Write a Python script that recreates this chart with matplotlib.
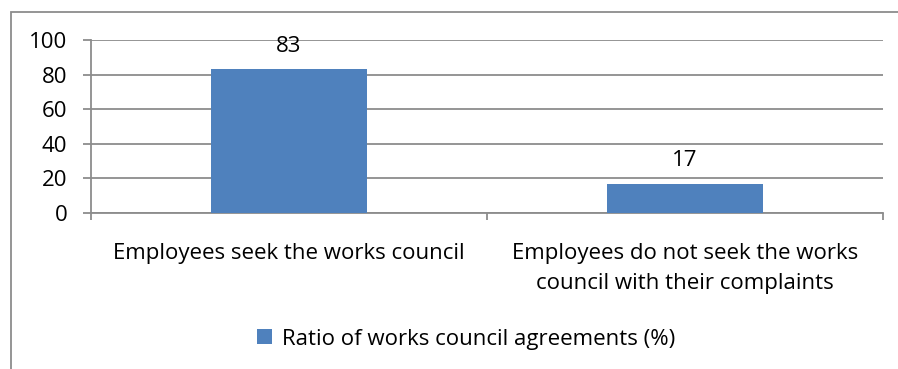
import numpy as np
import matplotlib.pyplot as plt
from matplotlib.patches import Rectangle

categories = ["Employees seek the works council",
              "Employees do not seek the works\ncouncil with their complaints"]
values = [83, 17]
series_name = "Ratio of works council agreements (%)"
yticks = [0, 20, 40, 60, 80, 100]

plt.rcParams['font.family'] = ['Open Sans', 'DejaVu Sans']
FS = 16
W, H = 898, 369
fig = plt.figure(figsize=(W / 100, H / 100), dpi=100)

# outer chart frame, clipped on the right and bottom
fig.patches.append(Rectangle((11 / W, -0.1), 1.2, 1 - 12 / H + 0.1,
                             transform=fig.transFigure, fill=False,
                             edgecolor='#8c8c8c', linewidth=1.3))

ax = fig.add_axes([91 / W, 1 - 213 / H, (883 - 91) / W, (213 - 40) / H])
x = np.arange(len(categories))
bars = ax.bar(x, values, width=0.394, color='#4F81BD', zorder=3,
              label=series_name)
ax.set_xlim(-0.5, len(categories) - 0.5)
ax.set_ylim(0, 100)
ax.set_yticks(yticks)
ax.set_yticklabels([str(t) for t in yticks], fontsize=FS)
ax.yaxis.grid(True, color='#8c8c8c', linewidth=1.3, zorder=0)
ax.tick_params(axis='y', length=6, width=1.3, color='#8c8c8c', pad=11)

# category ticks sit between groups, labels centred on the bars
ax.set_xticks([-0.5, 0.5, 1.5])
ax.set_xticklabels([])
ax.tick_params(axis='x', length=5, width=1.3, color='#8c8c8c')
for xi, lab in zip(x, categories):
    ax.text(xi, -17.5, lab, ha='center', va='top', fontsize=FS,
            linespacing=1.55)

for s in ['top', 'right']:
    ax.spines[s].set_visible(False)
for s in ['left', 'bottom']:
    ax.spines[s].set_color('#8c8c8c')
    ax.spines[s].set_linewidth(1.3)

for b, v in zip(bars, values):
    ax.text(b.get_x() + b.get_width() / 2, v + 13.5, str(v), ha='center',
            va='center', fontsize=FS)

fig.legend(handles=[bars], labels=[series_name], loc='center',
           bbox_to_anchor=(466 / W, 1 - 339 / H), frameon=False,
           fontsize=FS, handlelength=0.65, handleheight=0.65,
           handletextpad=0.45)

fig.savefig("out.png", dpi=100)
